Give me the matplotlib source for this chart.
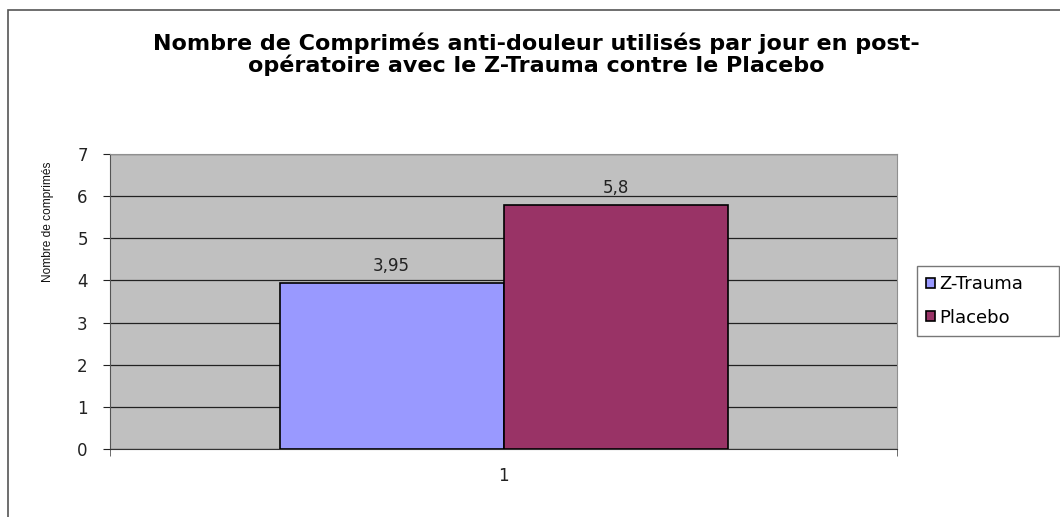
import matplotlib.pyplot as plt
from matplotlib.patches import Rectangle

# Data
categories = ['1']
series_names = ['Z-Trauma', 'Placebo']
values = [3.95, 5.8]
value_labels = ['3,95', '5,8']
colors = ['#9999FF', '#993366']

plt.rcParams['font.family'] = ['DejaVu Sans']

fig = plt.figure(figsize=(10.6, 5.17), dpi=100)
fig.patch.set_facecolor('white')

# chart area border (cut off at right and bottom)
fig.patches.append(Rectangle((8 / 1060, -0.1), 1.2, (517 - 10) / 517 + 0.1,
                             transform=fig.transFigure, fill=False,
                             edgecolor='#555555', linewidth=1.2))

ax = fig.add_axes([110 / 1060, (517 - 449) / 517, 787 / 1060, 295 / 517])
ax.set_facecolor('#C0C0C0')

bar_w = 224 / 787
offsets = [-bar_w / 2, bar_w / 2]
for name, v, lab, c, off in zip(series_names, values, value_labels, colors, offsets):
    ax.bar(off, v, width=bar_w, color=c, edgecolor='black', linewidth=1.2,
           label=name, zorder=3)
    ax.text(off, v + 0.17, lab, ha='center', va='bottom', fontsize=12,
            color='#222222', zorder=4)

ax.set_xlim(-0.5, 0.5)
ax.set_ylim(0, 7)
ax.set_yticks(range(0, 8))
ax.yaxis.grid(True, color='#222222', linewidth=0.9, zorder=1)
ax.tick_params(axis='y', length=5, direction='out', labelsize=12, pad=11,
               colors='#222222')
ax.set_xticks([0])
ax.set_xticklabels(categories)
ax.set_xticks([-0.5, 0.5], minor=True)
ax.tick_params(axis='x', which='major', length=0, labelsize=12, pad=13,
               colors='#222222')
ax.tick_params(axis='x', which='minor', length=5, direction='out', colors='#555555')

for side in ['top', 'right']:
    ax.spines[side].set_color('#909090')
ax.spines['left'].set_color('#555555')
ax.spines['bottom'].set_color('#333333')

fig.text(48 / 1060, 1 - 222 / 517, 'Nombre de comprimés', rotation=90,
         ha='center', va='center', fontsize=8.6, color='#111111',
         family=['Liberation Sans', 'DejaVu Sans'])

fig.text(536 / 1060, 1 - 54 / 517,
         'Nombre de Comprimés anti-douleur utilisés par jour en post-\n'
         'opératoire avec le Z-Trauma contre le Placebo',
         ha='center', va='center', fontsize=16, fontweight='bold',
         linespacing=1.0)

leg = fig.legend(loc='center', mode='expand',
                 bbox_to_anchor=(917 / 1060, (517 - 337) / 517, 142 / 1060, 72 / 517),
                 frameon=True, fancybox=False, edgecolor='#555555',
                 fontsize=13, handlelength=0.5, handleheight=0.5,
                 handletextpad=0.25, labelspacing=0.85, borderpad=0.5,
                 borderaxespad=0)
leg.get_frame().set_linewidth(1.0)

fig.savefig('out.png', dpi=100)
